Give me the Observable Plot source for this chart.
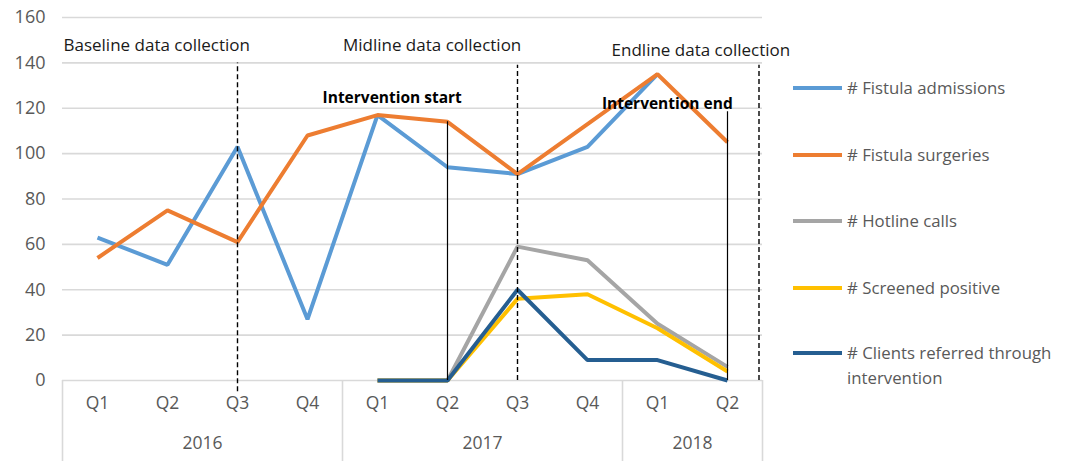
<!DOCTYPE html>
<html>
<head>
<meta charset="utf-8">
<script src="https://cdn.jsdelivr.net/npm/d3@7"></script>
<script src="https://cdn.jsdelivr.net/npm/@observablehq/plot@0.6"></script>
<style>
  html, body { margin: 0; padding: 0; background: #fff; }
  #wrap { position: relative; width: 1073px; height: 461px; overflow: hidden; font-family: "Open Sans", sans-serif; }
  #chart { position: absolute; left: 0; top: 0; }
  #legend { position: absolute; left: 793px; top: 0; width: 280px; color: #595959; font-size: 16.8px; }
  .item { position: absolute; left: 0; display: flex; align-items: flex-start; }
  .sw { width: 49px; height: 4px; margin-top: 11px; margin-right: 5px; flex: none; }
  .lab { line-height: 25px; white-space: nowrap; }
</style>
</head>
<body>
<div id="wrap"><div id="chart"></div><div id="legend"></div></div>
<script>
// ---- data ----
const years = ["2016","2016","2016","2016","2017","2017","2017","2017","2018","2018"];
const quarters = ["Q1","Q2","Q3","Q4","Q1","Q2","Q3","Q4","Q1","Q2"];
const seriesNames = ["# Fistula admissions","# Fistula surgeries","# Hotline calls","# Screened positive","# Clients referred through intervention"];
const fistulaAdmissions = [63, 51, 103, 27, 117, 94, 91, 103, 135, null];
const fistulaSurgeries  = [54, 75, 61, 108, 117, 114, 91, 113, 135, 105];
const hotlineCalls      = [null, null, null, null, 0, 0, 59, 53, 25, 6];
const screenedPositive  = [null, null, null, null, 0, 0, 36, 38, 23, 4];
const clientsReferred   = [null, null, null, null, 0, 0, 40, 9, 9, 0];
const colors = ["#5b9bd5", "#ed7d31", "#a5a5a5", "#ffc000", "#255e91"];
const yTicks = [0, 20, 40, 60, 80, 100, 120, 140, 160];

// annotations (label, x position in quarter-index units, y value, rule position and extent)
const dataCollection = [
  {label: "Baseline data collection", x: -0.5, y: 147.5, at: 2, top: 140, bottom: -5},
  {label: "Midline data collection", x: 4.78, y: 147.5, at: 6, top: 139, bottom: 0},
  {label: "Endline data collection", x: 8.62, y: 145.5, at: 9.45, top: 139, bottom: 0}
];
const intervention = [
  {label: "Intervention start", x: 4.21, y: 124.5, at: 5, top: 114},
  {label: "Intervention end", x: 8.14, y: 122, at: 9, top: 118.5}
];

// ---- build tables ----
const allSeries = [fistulaAdmissions, fistulaSurgeries, hotlineCalls, screenedPositive, clientsReferred];
const rows = [];
allSeries.forEach((vals, s) => vals.forEach((v, i) => rows.push({series: seriesNames[s], i, value: v})));

const yearGroups = d3.groups(years.map((y, i) => ({y, i})), d => d.y).map(([y, arr]) => ({
  year: y, start: d3.min(arr, d => d.i) - 0.5, end: d3.max(arr, d => d.i) + 0.5, mid: d3.mean(arr, d => d.i)
}));
const separators = [yearGroups[0].start, ...yearGroups.map(g => g.end)];

const font = "'Open Sans', sans-serif";
const plot = Plot.plot({
  width: 800,
  height: 461,
  marginLeft: 62,
  marginRight: 38,
  marginTop: 17,
  marginBottom: 81,
  style: {fontFamily: font, fontSize: "16px", color: "#595959", background: "transparent", overflow: "visible"},
  x: {type: "linear", domain: [-0.5, years.length - 0.5], axis: null},
  y: {domain: [0, 160], ticks: yTicks, axis: null},
  color: {domain: seriesNames, range: colors},
  marks: [
    Plot.gridY(yTicks.slice(1), {stroke: "#d9d9d9", strokeOpacity: 1, strokeWidth: 1.6}),
    Plot.ruleY([0], {stroke: "#d9d9d9", strokeWidth: 1.6}),
    Plot.text(yTicks, {x: -0.5, y: d => d, text: d => String(d), textAnchor: "end", dx: -17, fill: "#595959", fontSize: 18}),
    // category axis box
    Plot.ruleX(separators, {x: d => d, y1: 0, y2: -40, stroke: "#d9d9d9", strokeWidth: 1.6, clip: false}),
    Plot.text(quarters, {x: (d, i) => i, frameAnchor: "bottom", dy: 28, text: d => d, fill: "#595959", fontSize: 17.5}),
    Plot.text(yearGroups, {x: "mid", frameAnchor: "bottom", dy: 68, text: "year", fill: "#595959", fontSize: 17.5}),
    // data lines
    Plot.line(rows, {x: "i", y: "value", z: "series", stroke: "series", strokeWidth: 4, strokeLinejoin: "miter", strokeLinecap: "butt"}),
    // data-collection dashed rules
    Plot.ruleX(dataCollection, {x: "at", y1: "bottom", y2: "top", stroke: "#000", strokeWidth: 1.4, strokeDasharray: "5,3"}),
    Plot.text(dataCollection.slice(0, 1), {x: "x", y: "y", text: "label", textAnchor: "start", fill: "#1a1a1a", fontSize: 17, dx: 1}),
    Plot.text(dataCollection.slice(1), {x: "x", y: "y", text: "label", textAnchor: "middle", fill: "#1a1a1a", fontSize: 17}),
    // intervention solid rules
    Plot.ruleX(intervention, {x: "at", y1: 0, y2: "top", stroke: "#000", strokeWidth: 1.2}),
    Plot.text(intervention, {x: "x", y: "y", text: "label", fill: "#000", fontSize: 15.5, fontWeight: "bold"})
  ]
});
document.getElementById("chart").appendChild(plot);

// legend
const legend = document.getElementById("legend");
const legendTops = [75, 142, 208, 275, 340];
seriesNames.forEach((name, s) => {
  const item = document.createElement("div");
  item.className = "item";
  item.style.top = legendTops[s] + "px";
  const sw = document.createElement("div");
  sw.className = "sw";
  sw.style.background = colors[s];
  const lab = document.createElement("div");
  lab.className = "lab";
  lab.innerHTML = name === seriesNames[4] ? "# Clients referred through<br>intervention" : name;
  item.appendChild(sw); item.appendChild(lab);
  legend.appendChild(item);
});
</script>
</body>
</html>
